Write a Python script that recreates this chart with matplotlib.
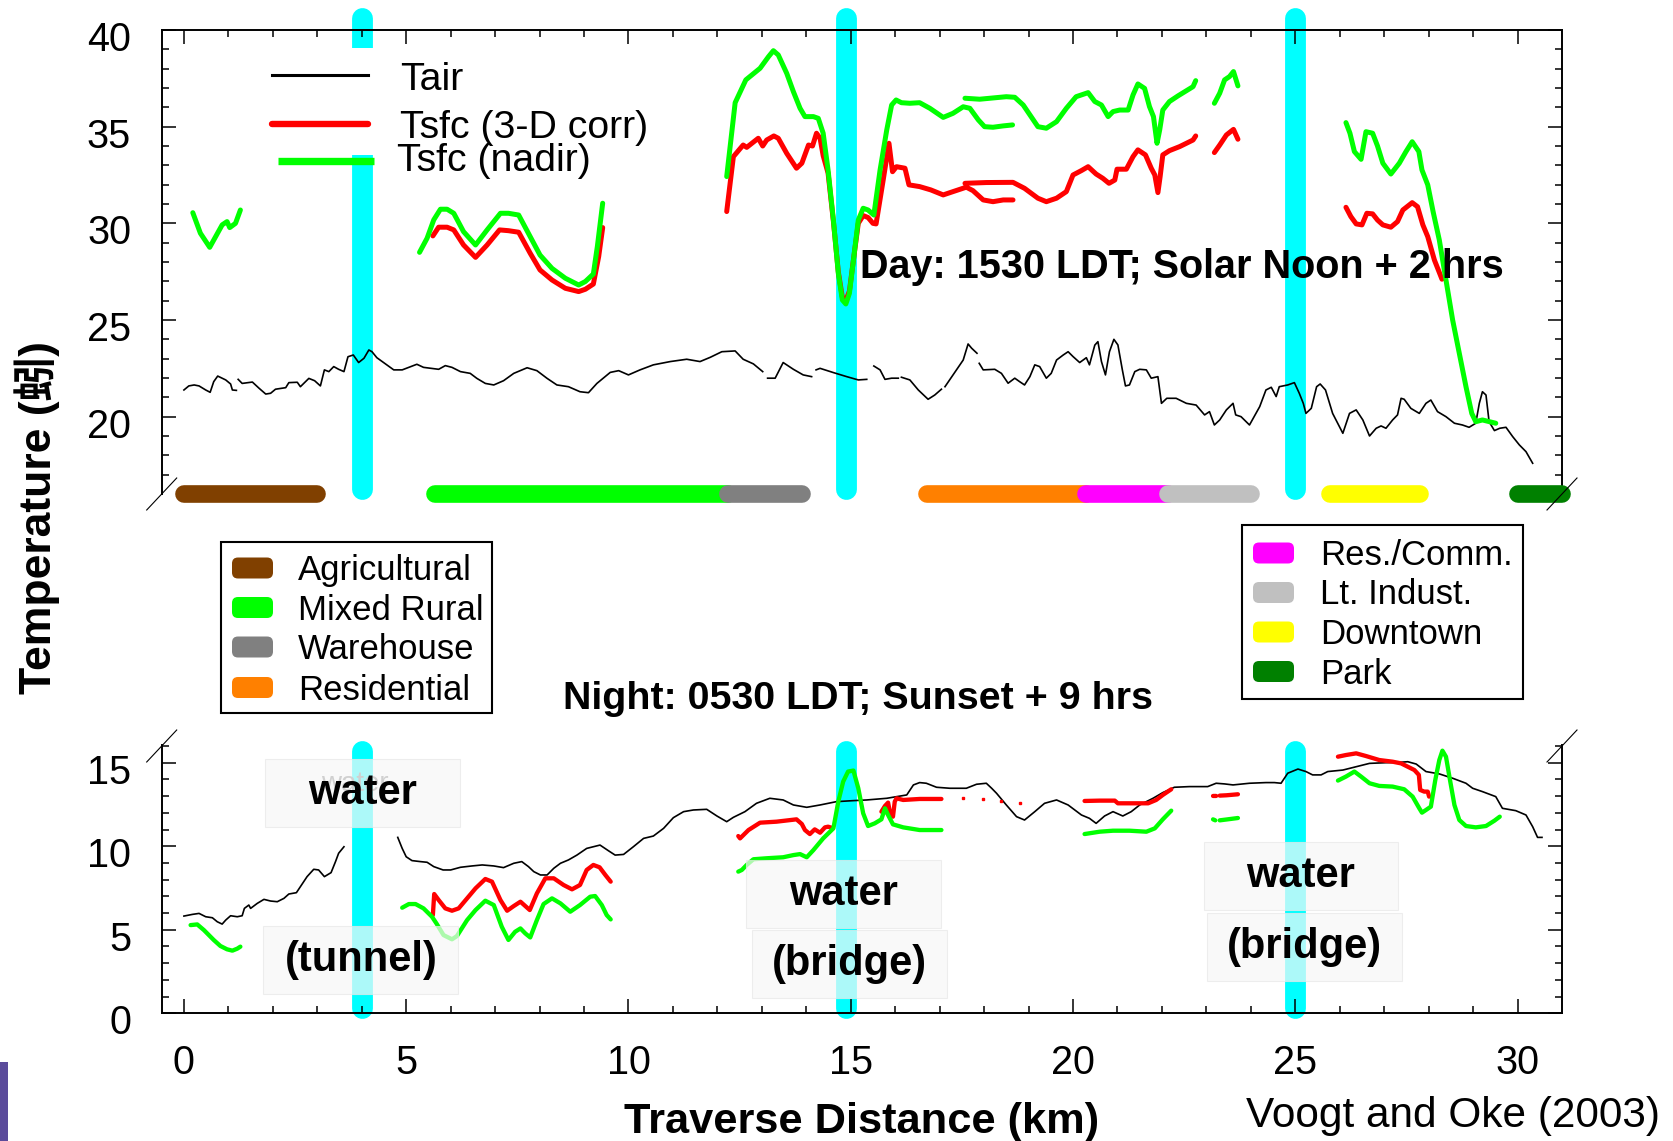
import numpy as np
import matplotlib
matplotlib.use("Agg")
import matplotlib.pyplot as plt
import matplotlib.transforms as mtransforms
from matplotlib.lines import Line2D
from matplotlib.patches import FancyBboxPatch, Rectangle

plt.rcParams['font.family'] = ['Liberation Sans', 'DejaVu Sans']

nan = np.nan

# ---- day traverse (1530 LDT) ----
day_tair_km = [0.00, 0.11, 0.23, 0.34, 0.49, 0.59, 0.67, 0.76, 0.94, 1.05, 1.09, 1.18, nan,
               1.22, 1.31, 1.54, 1.69, 1.84, 1.95, 2.06, 2.29, 2.36, 2.55, 2.62, 2.81, 2.94,
               3.07, 3.16, 3.26, 3.37, 3.48, 3.60, 3.69, 3.81, 3.93, 4.05, 4.16, 4.23, 4.34,
               4.57, 4.72, 4.91, 5.06, 5.24, 5.39, 5.73, 5.88, 6.03, 6.22, 6.44, 6.59, 6.78,
               6.97, 7.19, 7.42, 7.72, 7.94, 8.17, 8.39, 8.65, 8.91, 9.10, 9.29, 9.59, 9.78,
               10.00, 10.26, 10.56, 10.94, 11.31, 11.61, 11.84, 12.10, 12.40, 12.58, 12.81,
               13.02, nan, 13.13, 13.30, 13.48, 13.71, 13.93, 14.12, nan, 14.22, 14.31, 14.61,
               14.91, 15.17, 15.36, nan, 15.52, 15.66, 15.77, 15.92, 16.07, nan, 16.14, 16.33,
               16.52, 16.74, 16.89, 17.04, nan, 17.12, 17.30, 17.53, 17.64, 17.72, 17.84, nan,
               17.89, 17.98, 18.24, 18.39, 18.54, 18.69, 18.80, 18.91, 19.03, 19.14, 19.25,
               19.40, 19.51, 19.63, 19.78, 19.89, 20.00, 20.15, 20.30, 20.37, 20.49, 20.56,
               20.64, 20.73, 20.82, 20.92, 21.01, 21.11, 21.18, 21.27, 21.39, 21.50, 21.65,
               21.76, 21.91, 21.99, 22.11, 22.32, 22.55, 22.77, 22.96, 23.07, 23.18, 23.30,
               23.45, 23.60, 23.66, 23.78, 23.97, 24.20, 24.34, 24.46, 24.57, 24.64, 24.83,
               24.98, 25.09, 25.18, 25.24, 25.36, 25.48, 25.56, 25.68, 25.84, 26.07, 26.22,
               26.37, 26.52, 26.67, 26.82, 26.93, 27.04, 27.19, 27.30, 27.38, 27.45, 27.60,
               27.79, 27.94, 28.05, 28.20, 28.39, 28.58, 28.76, 28.91, 29.06, 29.14, 29.21,
               29.29, 29.36, 29.48, 29.60, 29.74, 29.89, 30.04, 30.19, 30.34]
day_tair = [21.38, 21.59, 21.64, 21.59, 21.38, 21.26, 21.81, 22.10, 21.90, 21.69, 21.38, 21.36, nan,
            21.93, 21.72, 21.79, 21.47, 21.17, 21.21, 21.42, 21.50, 21.76, 21.78, 21.55, 21.98, 21.86,
            21.59, 22.42, 22.33, 22.59, 22.45, 22.33, 23.10, 23.19, 22.80, 23.02, 23.45, 23.36, 23.05,
            22.67, 22.42, 22.42, 22.55, 22.71, 22.55, 22.45, 22.64, 22.55, 22.33, 22.24, 21.98, 21.72,
            21.64, 21.86, 22.24, 22.53, 22.38, 21.98, 21.64, 21.55, 21.29, 21.24, 21.72, 22.29, 22.38,
            22.16, 22.42, 22.68, 22.85, 22.97, 22.85, 23.07, 23.36, 23.40, 22.97, 22.73,
            22.33, nan, 21.99, 21.99, 22.80, 22.45, 22.16, 22.07, nan, 22.42, 22.50, 22.28,
            22.07, 21.90, 21.93, nan, 22.62, 22.42, 21.93, 21.99, 21.99, nan, 22.04, 21.90,
            21.38, 20.90, 21.12, 21.42, nan, 21.55, 22.16, 22.93, 23.76, 23.54, 23.28, nan,
            22.76, 22.42, 22.45, 22.24, 21.73, 21.99, 21.81, 21.64, 22.07, 22.68, 22.59,
            21.99, 22.24, 22.93, 23.19, 23.36, 23.11, 22.80, 23.05, 22.68, 23.70, 23.88,
            22.85, 22.16, 23.36, 24.00, 23.71, 22.42, 21.59, 21.64, 22.33, 22.45, 22.42,
            21.99, 22.07, 20.69, 20.95, 20.95, 20.69, 20.60, 20.09, 20.26, 19.57, 19.83,
            20.35, 20.69, 20.09, 20.00, 19.57, 20.52, 21.38, 21.52, 21.04, 21.55, 21.64,
            21.76, 21.21, 20.69, 20.17, 20.43, 21.55, 21.69, 21.38, 20.17, 19.14, 20.17,
            20.35, 19.83, 19.00, 19.40, 19.52, 19.40, 19.83, 20.09, 20.95, 20.90, 20.43,
            20.17, 20.69, 20.86, 20.26, 20.00, 19.66, 19.57, 19.45, 19.66, 20.69, 21.29,
            21.12, 19.74, 19.28, 19.40, 19.45, 18.97, 18.54, 18.19, 17.59]

day_corr_km = [5.60, 5.73, 5.92, 6.07, 6.29, 6.56, 6.82, 7.10, 7.30, 7.53, 7.79, 8.01, 8.28, 8.58,
               8.88, 9.03, 9.21, 9.33, 9.42, nan,
               12.21, 12.36, 12.58, 12.66, 12.92, 13.02, 13.11, 13.27, 13.37, 13.56, 13.78, 13.90,
               14.05, 14.14, 14.23, 14.31, 14.38, 14.49, 14.61, 14.72, 14.81, 14.89, 14.97, 15.06,
               15.17, 15.28, 15.39, 15.50, 15.57, 15.73, 15.86, 15.94, 16.03, 16.22, 16.31, 16.55,
               16.80, 17.08, 17.30, 17.60, 17.75, 17.98, 18.20, 18.43, 18.65, nan,
               17.57, 18.05, 18.65, 18.91, 19.21, 19.40, 19.63, 19.85, 20.00, 20.19, 20.34, 20.52,
               20.67, 20.81, 20.94, 20.99, 21.20, 21.35, 21.46, 21.63, 21.76, 21.84, 21.91, 21.96,
               22.02, 22.17, 22.40, 22.55, 22.70, 22.76, nan,
               23.18, 23.30, 23.45, 23.61, 23.71, nan,
               26.14, 26.25, 26.37, 26.50, 26.61, 26.74, 26.85, 26.97, 27.15, 27.30, 27.42, 27.63,
               27.75, 27.87, 27.98, 28.13, 28.30]
day_corr = [29.35, 29.80, 29.80, 29.66, 28.88, 28.24, 28.88, 29.66, 29.62, 29.54, 28.45, 27.59, 27.07, 26.64,
            26.47, 26.59, 26.86, 28.28, 29.78, nan,
            30.61, 33.45, 34.05, 33.93, 34.40, 34.00, 34.31, 34.52, 34.40, 33.62, 32.85, 33.11,
            34.05, 34.00, 34.66, 34.40, 33.50, 32.60, 30.10, 27.50, 26.20, 26.00, 26.50, 28.10,
            30.00, 30.40, 30.30, 30.00, 29.97, 32.24, 34.14, 32.67, 32.93, 32.85, 31.99, 31.90,
            31.73, 31.47, 31.64, 31.87, 31.69, 31.21, 31.12, 31.21, 31.21, nan,
            32.07, 32.11, 32.12, 31.81, 31.30, 31.12, 31.30, 31.64, 32.50, 32.73, 32.93, 32.55,
            32.33, 32.07, 32.24, 32.80, 32.80, 33.45, 33.80, 33.54, 32.85, 32.50, 31.59, 32.42,
            33.54, 33.76, 33.97, 34.14, 34.31, 34.52, nan,
            33.66, 34.05, 34.57, 34.86, 34.35, nan,
            30.83, 30.35, 29.97, 29.92, 30.52, 30.49, 30.17, 29.92, 29.80, 30.09, 30.69, 31.07,
            30.86, 29.92, 29.31, 28.10, 27.11]

day_nadir_km = [0.20, 0.37, 0.58, 0.86, 0.97, 1.03, 1.16, 1.27, nan,
                5.30, 5.47, 5.62, 5.77, 5.92, 6.07, 6.29, 6.56, 6.82, 7.12, 7.30, 7.53, 7.79, 8.01,
                8.28, 8.58, 8.88, 9.03, 9.21, 9.30, 9.42, nan,
                12.21, 12.32, 12.40, 12.64, 12.96, 13.15, 13.26, 13.37, 13.56, 13.71, 13.86, 13.97,
                14.16, 14.27, 14.38, 14.49, 14.61, 14.72, 14.81, 14.89, 14.97, 15.06, 15.17, 15.28,
                15.39, 15.52, 15.66, 15.81, 15.92, 16.02, 16.14, 16.33, 16.55, 16.78, 17.08, 17.30,
                17.53, 17.68, 17.87, 18.01, 18.20, 18.43, 18.64, nan,
                17.57, 17.90, 18.50, 18.69, 18.88, 19.21, 19.40, 19.63, 19.85, 20.07, 20.34, 20.49,
                20.64, 20.79, 20.90, 21.05, 21.24, 21.35, 21.46, 21.61, 21.72, 21.81, 21.89, 21.95,
                22.02, 22.17, 22.36, 22.55, 22.70, 22.76, nan,
                23.18, 23.30, 23.41, 23.52, 23.61, 23.71, nan,
                26.14, 26.23, 26.33, 26.48, 26.59, 26.74, 26.85, 26.97, 27.15, 27.34, 27.49, 27.63,
                27.78, 27.85, 27.98, 28.10, 28.24, 28.39, 28.54, 28.69, 28.84, 28.97, 29.06, 29.21,
                29.51]
day_nadir = [30.55, 29.49, 28.76, 29.92, 30.09, 29.78, 30.00, 30.69, nan,
             28.50, 29.23, 30.18, 30.73, 30.73, 30.52, 29.57, 28.88, 29.66, 30.52, 30.52, 30.43, 29.31, 28.36,
             27.67, 27.16, 26.81, 26.99, 27.38, 28.80, 31.04, nan,
             32.42, 34.66, 36.24, 37.42, 38.02, 38.62, 38.93, 38.71, 37.76, 36.81, 35.95, 35.52,
             35.52, 35.43, 34.66, 32.76, 30.17, 27.42, 26.04, 25.83, 26.38, 28.10, 30.17, 30.78,
             30.69, 30.43, 32.76, 34.83, 36.12, 36.38, 36.24, 36.21, 36.24, 35.95, 35.48, 35.69,
             36.03, 35.95, 35.35, 35.00, 34.97, 35.04, 35.09, nan,
             36.47, 36.42, 36.55, 36.52, 36.12, 35.00, 34.92, 35.26, 35.95, 36.55, 36.76, 36.30,
             36.12, 35.52, 35.78, 35.86, 35.86, 36.64, 37.21, 36.98, 36.04, 35.52, 34.14, 34.83,
             35.86, 36.30, 36.59, 36.86, 37.07, 37.38, nan,
             36.21, 36.73, 37.42, 37.59, 37.85, 37.11, nan,
             35.21, 34.66, 33.71, 33.31, 34.74, 34.66, 34.00, 33.11, 32.55, 33.11, 33.71, 34.22,
             33.71, 32.76, 31.99, 30.61, 29.14, 27.07, 25.00, 23.28, 21.55, 20.17, 19.74, 19.83,
             19.66]

# ---- night traverse (0530 LDT) ----
night_tair_km = [0.00, 0.19, 0.34, 0.49, 0.64, 0.75, 0.86, 0.94, 1.05, 1.20, 1.31, 1.36, 1.46, 1.50,
                 1.65, 1.80, 1.95, 2.10, 2.25, 2.36, 2.53, 2.62, 2.77, 2.92, 3.03, 3.16, 3.31, 3.41,
                 3.48, 3.60, nan,
                 4.81, 4.91, 5.00, 5.13, 5.32, 5.47, 5.62, 5.83, 6.00, 6.22, 6.48, 6.71, 6.97, 7.19,
                 7.42, 7.60, 7.75, 7.87, 8.02, 8.17, 8.32, 8.47, 8.65, 8.84, 9.06, 9.36, 9.55, 9.70,
                 9.89, 10.11, 10.34, 10.56, 10.79, 11.01, 11.24, 11.46, 11.76, 11.99, 12.21, 12.36,
                 12.62, 12.88, 13.18, 13.48, 13.71, 14.01, 14.31, 14.68, 15.06, 15.36, 15.81, 16.26,
                 16.41, 16.55, 16.70, 16.93, 17.23, 17.60, 17.83, 18.05, 18.17, 18.28, 18.50, 18.73,
                 18.91, 19.14, 19.36, 19.63, 19.89, 20.19, 20.37, 20.52, 20.71, 20.90, 21.12, 21.31,
                 21.50, 21.80, 22.02, 22.28, 22.62, 23.03, 23.22, 23.41, 23.60, 23.97, 24.34, 24.53,
                 24.68, 24.83, 25.06, 25.24, 25.39, 25.58, 25.73, 26.07, 26.37, 26.67, 27.04, 27.34,
                 27.53, 27.72, 27.94, 28.24, 28.54, 28.84, 28.99, 29.21, 29.51, 29.66, 29.96, 30.19,
                 30.34, 30.45, 30.55]
night_tair = [5.82, 5.92, 5.98, 5.78, 5.72, 5.48, 5.34, 5.58, 5.84, 5.78, 5.84, 6.28, 6.48, 6.28,
              6.58, 6.82, 6.72, 6.68, 6.88, 7.14, 7.22, 7.58, 8.18, 8.62, 8.58, 8.18, 8.42, 9.08,
              9.58, 9.97, nan,
              10.53, 9.87, 9.37, 9.14, 9.08, 9.04, 8.78, 8.58, 8.58, 8.74, 8.82, 8.88, 8.82, 8.72,
              8.98, 9.08, 8.78, 8.48, 8.28, 8.28, 8.68, 8.98, 9.18, 9.47, 9.87, 10.07, 9.73, 9.47,
              9.51, 9.97, 10.47, 10.61, 11.07, 11.71, 12.07, 12.17, 12.21, 11.81, 11.47, 11.73,
              12.07, 12.57, 12.87, 12.77, 12.47, 12.33, 12.47, 12.67, 12.73, 12.77, 12.87, 13.07,
              13.67, 13.81, 13.77, 13.53, 13.47, 13.47, 13.71, 13.77, 13.47, 13.17, 12.47, 11.77,
              11.57, 12.07, 12.57, 12.77, 12.47, 11.87, 11.67, 11.37, 11.81, 12.07, 11.81, 12.07,
              12.47, 12.87, 13.21, 13.53, 13.57, 13.57, 13.77, 13.73, 13.67, 13.77, 13.81, 13.81,
              13.77, 14.37, 14.62, 14.47, 14.27, 14.27, 14.47, 14.56, 14.76, 14.96, 15.00, 15.02,
              15.06, 14.92, 14.47, 14.33, 14.07, 13.77, 13.47, 13.27, 12.97, 12.27, 12.13, 11.87,
              11.17, 10.53, 10.53]

night_corr_km = [5.60, 5.63, 5.73, 5.88, 6.03, 6.18, 6.37, 6.56, 6.78, 6.93, 7.12, 7.27, 7.42, 7.57,
                 7.78, 7.94, 8.13, 8.32, 8.54, 8.73, 8.91, 9.06, 9.21, 9.35, 9.48, 9.60, nan,
                 12.47, 12.51, 12.70, 12.96, 13.33, 13.78, 13.90, 13.97, 14.08, 14.19, 14.31, 14.42,
                 14.49, 14.58, nan,
                 15.69, 15.77, 15.84, 15.88, 15.95, 15.99, 16.03, 16.18, 16.55, 17.04, nan,
                 20.26, 20.60, 20.94, 21.01, 21.35, 21.69, 21.87, 22.02, 22.21, nan,
                 23.15, 23.22, nan, 23.30, 23.45, 23.71, nan,
                 25.96, 26.14, 26.37, 26.59, 26.89, 27.19, 27.38, 27.53, 27.68, 27.78, 27.81, 27.90,
                 27.98, 28.01]
night_corr = [5.88, 7.14, 6.78, 6.28, 6.14, 6.28, 6.88, 7.48, 8.04, 7.88, 6.78, 6.14, 6.42, 6.68,
              6.18, 7.18, 8.08, 8.08, 7.68, 7.42, 7.68, 8.58, 8.88, 8.74, 8.28, 7.88, nan,
              10.61, 10.47, 10.97, 11.41, 11.47, 11.61, 11.33, 10.97, 10.73, 11.01, 10.81, 11.13,
              11.17, 11.10, nan,
              12.07, 12.41, 12.61, 12.07, 11.77, 12.67, 12.87, 12.77, 12.83, 12.83, nan,
              12.71, 12.73, 12.73, 12.57, 12.57, 12.57, 12.77, 13.07, 13.41, nan,
              13.01, 13.01, nan, 13.03, 13.05, 13.11, nan,
              15.36, 15.46, 15.56, 15.40, 15.16, 15.06, 14.96, 14.76, 14.56, 14.27, 13.37, 13.27,
              13.27, 12.97]
# isolated 3-D corrected readings between 17 and 19 km
night_corr_dots_km = [17.53, 17.98, 18.39, 18.80]
night_corr_dots = [12.87, 12.80, 12.71, 12.57]

night_nadir_km = [0.15, 0.30, 0.45, 0.67, 0.82, 0.97, 1.09, 1.20, 1.27, nan,
                  4.91, 5.06, 5.21, 5.39, 5.58, 5.68, 5.84, 6.03, 6.14, 6.37, 6.56, 6.78, 6.97, 7.15,
                  7.30, 7.45, 7.57, 7.68, 7.79, 7.94, 8.09, 8.28, 8.47, 8.69, 8.91, 9.14, 9.25, 9.40,
                  9.51, 9.60, nan,
                  12.47, 12.55, 12.66, 12.81, 13.11, 13.48, 13.71, 13.86, 14.01, 14.16, 14.38, 14.61,
                  14.72, 14.83, 14.94, 15.06, 15.17, 15.28, 15.39, 15.54, 15.69, 15.77, 15.84, 15.95,
                  16.18, 16.55, 17.04, nan,
                  20.26, 20.60, 20.90, 21.27, 21.65, 21.84, 22.02, 22.21, nan,
                  23.15, 23.20, nan, 23.30, 23.45, 23.71, nan,
                  25.96, 26.14, 26.33, 26.48, 26.67, 26.89, 27.19, 27.45, 27.64, 27.79, 27.85, 27.94,
                  28.05, 28.15, 28.24, 28.31, 28.39, 28.48, 28.58, 28.69, 28.84, 29.06, 29.29, 29.48,
                  29.60]
night_nadir = [5.28, 5.32, 4.98, 4.39, 4.03, 3.83, 3.75, 3.87, 3.99, nan,
               6.32, 6.54, 6.54, 6.28, 5.78, 5.38, 4.68, 4.43, 4.62, 5.58, 6.18, 6.74, 6.48, 5.18,
               4.39, 4.88, 5.08, 4.78, 4.54, 5.58, 6.54, 6.88, 6.58, 6.08, 6.48, 6.98, 7.02, 6.48,
               5.88, 5.62, nan,
               8.48, 8.58, 8.88, 9.22, 9.28, 9.34, 9.47, 9.53, 9.34, 9.77, 10.47, 11.07,
               12.67, 13.87, 14.47, 14.53, 13.47, 11.97, 11.21, 11.37, 11.61, 12.27, 11.87, 11.31,
               11.13, 10.97, 10.97, nan,
               10.73, 10.87, 10.93, 10.93, 10.87, 11.07, 11.61, 12.13, nan,
               11.61, 11.55, nan, 11.55, 11.60, 11.69, nan,
               13.93, 14.17, 14.47, 14.17, 13.77, 13.61, 13.57, 13.41, 12.97, 12.27, 12.01, 12.17,
               12.37, 13.97, 15.16, 15.72, 15.36, 13.97, 12.47, 11.57, 11.21, 11.13, 11.21, 11.53,
               11.77]

# ---- land use along the route ----
landuse_names = ['Agricultural', 'Mixed Rural', 'Warehouse', 'Residential',
                 'Res./Comm.', 'Lt. Indust.', 'Downtown', 'Park']
landuse_start = [0.0, 5.64, 12.25, 16.72, 20.30, 22.14, 25.77, 30.0]
landuse_end = [3.0, 12.25, 13.90, 20.30, 22.14, 24.00, 27.80, 31.0]
landuse_colors = ['#804000', '#00ff00', '#808080', '#ff8000',
                  '#ff00ff', '#c0c0c0', '#ffff00', '#008000']

# water crossings
water_km = [4.0, 14.9, 25.0]
water_labels = ['water', '(tunnel)', 'water', '(bridge)', 'water', '(bridge)']
water_label_km = [4.02, 3.98, 14.84, 14.97, 25.13, 25.20]
water_label_t = [13.19, 3.19, 7.17, 2.95, 8.19, 3.97]

CYAN = '#00ffff'
LIME = '#00ff00'
W, H, DPI = 1674, 1141, 100

fig = plt.figure(figsize=(W / DPI, H / DPI), dpi=DPI)
# picture pixel coordinates, y pointing down
pix = mtransforms.Affine2D().scale(1 / DPI, -1 / DPI).translate(0, H / DPI) + fig.dpi_scale_trans

ax_top = fig.add_axes([161.7 / W, 1 - 494 / H, 1400.3 / W, 464 / H])
ax_bot = fig.add_axes([161.7 / W, 1 - 1013.3 / H, 1400.3 / W, 267.8 / H])

for ax in (ax_top, ax_bot):
    ax.set_xlim(-0.5, 31)
    ax.set_xticks(np.arange(0, 31, 5))
    ax.set_xticks(np.arange(0, 31, 1), minor=True)
    ax.tick_params(which='both', direction='in', width=1.1, labelsize=28.5, pad=22)
    ax.tick_params(which='major', length=10)
    ax.tick_params(which='minor', length=5)
    ax.tick_params(axis='y', which='both', left=True, right=True)
    for sp in ax.spines.values():
        sp.set_linewidth(1.4)

ax_top.set_ylim(16, 40)
ax_top.set_yticks([20, 25, 30, 35, 40])
ax_top.set_yticks(np.arange(17, 40, 1), minor=True)
ax_top.tick_params(axis='x', which='both', top=True, bottom=False,
                   labeltop=False, labelbottom=False)
ax_top.spines['bottom'].set_visible(False)

ax_bot.set_ylim(0, 16.03)
ax_bot.set_yticks([0, 5, 10, 15])
ax_bot.set_yticks(np.arange(1, 17, 1), minor=True)
ax_bot.tick_params(axis='x', which='both', top=False, bottom=True)
ax_bot.spines['top'].set_visible(False)

shift = mtransforms.ScaledTranslation(0, -6 / DPI, fig.dpi_scale_trans)
for ax in (ax_top, ax_bot):
    for lab in ax.get_yticklabels():
        lab.set_transform(lab.get_transform() + shift)

# water bands
for xw in water_km:
    ax_top.plot([xw, xw], [16.28, 40.6], color=CYAN, lw=15, solid_capstyle='round',
                clip_on=False, zorder=1)
    ax_bot.plot([xw, xw], [0.3, 15.7], color=CYAN, lw=15, solid_capstyle='round',
                clip_on=False, zorder=1)

# day curves
ax_top.plot(day_tair_km, day_tair, color='black', lw=1.2, zorder=2)
ax_top.plot(day_corr_km, day_corr, color='red', lw=3.6, zorder=3,
            solid_capstyle='round', solid_joinstyle='round')
ax_top.plot(day_nadir_km, day_nadir, color=LIME, lw=3.6, zorder=3.2,
            solid_capstyle='round', solid_joinstyle='round')

# land-use strip along the bottom of the day panel
for s, e, c in zip(landuse_start, landuse_end, landuse_colors):
    ax_top.plot([s, e], [16, 16], color=c, lw=12.7, solid_capstyle='round',
                clip_on=False, zorder=4)

# night curves
ax_bot.plot(night_tair_km, night_tair, color='black', lw=1.2, zorder=2)
ax_bot.plot(night_corr_km, night_corr, color='red', lw=3.1, zorder=3,
            solid_capstyle='round', solid_joinstyle='round')
ax_bot.plot(night_corr_dots_km, night_corr_dots, ls='none', marker='s', ms=2,
            color='red', zorder=3)
ax_bot.plot(night_nadir_km, night_nadir, color=LIME, lw=3.1, zorder=3.2,
            solid_capstyle='round', solid_joinstyle='round')

# faint duplicate label under the tunnel box
ax_bot.text(3.85, 13.75, 'water', color='#777777', fontsize=20, ha='center', va='center',
            zorder=4.5)
for lab, xk, yt in zip(water_labels, water_label_km, water_label_t):
    ax_bot.add_patch(Rectangle((xk - 2.19, yt - 2.035), 4.38, 4.07, facecolor='#f7f7f7',
                               edgecolor='#e8e8e8', lw=0.8, alpha=0.7, zorder=5,
                               clip_on=False))
    ax_bot.text(xk, yt, lab, fontsize=30, fontweight='bold', ha='center', va='center',
                zorder=6, clip_on=False)

# axis break marks
for cx, cy in [(161.7, 494), (1562, 494), (161.7, 746), (1562, 746)]:
    fig.add_artist(Line2D([cx - 15, cx + 15], [cy + 16, cy - 16], transform=pix,
                          color='black', lw=0.8))

# curve key in the day panel
fig.add_artist(Rectangle((255, 48), 405, 107, transform=pix, facecolor='white',
                         edgecolor='none'))
fig.add_artist(Line2D([272, 368], [75, 75], transform=pix, color='black', lw=2.2))
fig.add_artist(Line2D([272, 368], [124, 124], transform=pix, color='red', lw=4.6,
                      solid_capstyle='round'))
fig.add_artist(Line2D([278, 374], [161, 161], transform=pix, color=LIME, lw=5.3,
                      solid_capstyle='butt'))
fig.text(400, 89.5, 'Tair', transform=pix, fontsize=28.3, va='baseline')
fig.text(400, 137.5, 'Tsfc (3-D corr)', transform=pix, fontsize=28.3, va='baseline')
fig.text(397, 171, 'Tsfc (nadir)', transform=pix, fontsize=28.3, va='baseline')


def land_key(box, patch_x, text_x, rows, idx):
    x0, y0, x1, y1 = box
    fig.add_artist(Rectangle((x0, y0), x1 - x0, y1 - y0, transform=pix,
                             facecolor='white', edgecolor='black', lw=1.5))
    for ry, i in zip(rows, idx):
        fig.add_artist(FancyBboxPatch((patch_x, ry - 10.5), 41, 21, transform=pix,
                                      boxstyle='round,pad=0,rounding_size=6',
                                      facecolor=landuse_colors[i], edgecolor='none'))
        fig.text(text_x, ry + 12, landuse_names[i], transform=pix, fontsize=25,
                 va='baseline')


land_key((221, 542, 492, 713), 232, 298, [568, 607.5, 647, 687.5], [0, 1, 2, 3])
land_key((1242, 525, 1523, 699), 1253, 1320, [553, 592.5, 632, 671.5], [4, 5, 6, 7])

# titles and labels
fig.text(860, 278, 'Day: 1530 LDT; Solar Noon + 2 hrs', transform=pix, fontsize=28.5,
         fontweight='bold', va='baseline', ha='left')
fig.text(858, 709, 'Night: 0530 LDT; Sunset + 9 hrs', transform=pix, fontsize=28.4,
         fontweight='bold', va='baseline', ha='center')
fig.text(862, 1133, 'Traverse Distance (km)', transform=pix, fontsize=31.2,
         fontweight='bold', va='baseline', ha='center')
fig.text(1660, 1127, 'Voogt and Oke (2003)', transform=pix, fontsize=30.5,
         va='baseline', ha='right')
fig.text(37.5, 517, 'Temperature (\u8693)', transform=pix, fontsize=32, fontweight='bold',
         rotation=90, ha='center', va='center',
         family=['Liberation Sans', 'Noto Sans CJK SC'])

# strip at the lower-left edge
fig.add_artist(Rectangle((0, 1062), 8, 79, transform=pix, facecolor='#5b4b9b',
                         edgecolor='none'))

fig.savefig('out.png', dpi=DPI)
